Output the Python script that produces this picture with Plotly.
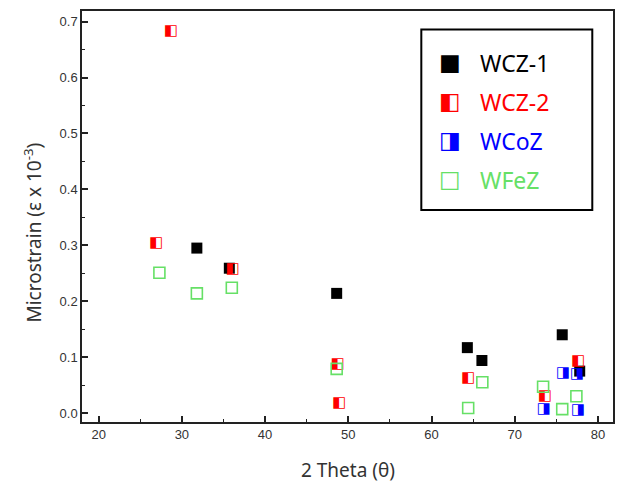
import plotly.graph_objects as go

# ---- data (2 theta in degrees, microstrain x 1e-3) ----
wcz1_x = [31.8, 35.7, 48.6, 64.3, 66.05, 75.7, 77.8]
wcz1_y = [0.295, 0.259, 0.214, 0.117, 0.094, 0.140, 0.075]

wcz2_x = [28.66, 26.9, 36.1, 48.7, 48.9, 64.4, 73.6, 77.6]
wcz2_y = [0.682, 0.303, 0.258, 0.088, 0.018, 0.063, 0.030, 0.093]

wcoz_x = [73.5, 75.8, 77.5, 77.6]
wcoz_y = [0.007, 0.072, 0.069, 0.005]

wfez_x = [27.3, 31.8, 36.0, 48.6, 64.4, 66.1, 73.4, 75.7, 77.4]
wfez_y = [0.251, 0.214, 0.224, 0.079, 0.009, 0.055, 0.047, 0.007, 0.030]

series_names = ["WCZ-1", "WCZ-2", "WCoZ", "WFeZ"]
series_colors = ["#000000", "#ff0000", "#0000ff", "#66e066"]
series_glyphs = ["\u25A0", "\u25E7", "\u25E8", "\u25A1"]

x_ticks = [20, 30, 40, 50, 60, 70, 80]
y_ticks = [0.0, 0.1, 0.2, 0.3, 0.4, 0.5, 0.6, 0.7]

fig = go.Figure()

fig.add_trace(go.Scatter(
    x=wcz1_x, y=wcz1_y, mode="markers", name=series_names[0], showlegend=False,
    marker=dict(symbol="square", size=11, color=series_colors[0],
                line=dict(width=0))))

fig.add_trace(go.Scatter(
    x=wcz2_x, y=wcz2_y, mode="text", name=series_names[1], showlegend=False,
    text=[series_glyphs[1]] * len(wcz2_x), textposition="middle center",
    textfont=dict(family="DejaVu Sans", size=15, color=series_colors[1])))

fig.add_trace(go.Scatter(
    x=wcoz_x, y=wcoz_y, mode="text", name=series_names[2], showlegend=False,
    text=[series_glyphs[2]] * len(wcoz_x), textposition="middle center",
    textfont=dict(family="DejaVu Sans", size=15, color=series_colors[2])))

fig.add_trace(go.Scatter(
    x=wfez_x, y=wfez_y, mode="markers", name=series_names[3], showlegend=False,
    marker=dict(symbol="square-open", size=11, color=series_colors[3],
                line=dict(width=1.6, color=series_colors[3]))))

# ---- manual legend ----
legend_top = 0.873
legend_step = 0.095
for i, (nm, col, gl) in enumerate(zip(series_names, series_colors, series_glyphs)):
    yy = legend_top - i * legend_step
    fig.add_annotation(xref="paper", yref="paper", x=0.693, y=yy + 0.004, text=gl,
                       showarrow=False, xanchor="center", yanchor="middle",
                       font=dict(family="DejaVu Sans", size=23, color=col))
    fig.add_annotation(xref="paper", yref="paper", x=0.746, y=yy, text=nm,
                       showarrow=False, xanchor="left", yanchor="middle",
                       font=dict(family="Noto Sans", size=23, color=col))

fig.add_shape(type="rect", xref="paper", yref="paper",
              x0=0.639, x1=0.961, y0=0.516, y1=0.955,
              line=dict(color="black", width=2), fillcolor="white", layer="below")

# axis titles
fig.add_annotation(xref="paper", yref="paper", x=0.5, y=-0.117, text="2 Theta (\u03b8)",
                   showarrow=False, xanchor="center", yanchor="middle",
                   font=dict(family="Noto Sans", size=19, color="#333333"))
fig.add_annotation(xref="paper", yref="paper", x=-0.093, y=0.46,
                   text="Microstrain (\u03b5 x 10<sup>-3</sup>)", textangle=-90,
                   showarrow=False, xanchor="center", yanchor="middle",
                   font=dict(family="Noto Sans", size=19, color="#333333"))

axis_common = dict(showgrid=False, zeroline=False, showline=True, linecolor="#222222",
                   linewidth=1.5, mirror=True, ticks="inside", ticklen=6, tickwidth=1.5,
                   tickcolor="#222222",
                   tickfont=dict(family="Liberation Sans", size=13, color="#333333"))

fig.update_xaxes(range=[18.0, 81.8], tickvals=x_ticks,
                 ticktext=[str(v) for v in x_ticks],
                 minor=dict(dtick=5, ticks="inside", ticklen=3, tickwidth=1.2,
                            tickcolor="#222222"),
                 **axis_common)
fig.update_yaxes(range=[-0.016, 0.719], tickvals=y_ticks,
                 ticktext=["%.1f" % v for v in y_ticks],
                 minor=dict(dtick=0.05, ticks="inside", ticklen=3, tickwidth=1.2,
                            tickcolor="#222222"),
                 **axis_common)

fig.update_layout(width=618, height=483, plot_bgcolor="white", paper_bgcolor="white",
                  margin=dict(l=82, r=3, t=11, b=61), showlegend=False)

fig.write_html("out.html", config={"displayModeBar": False},
               post_script="document.body.style.margin='0px';document.body.style.overflow='hidden';")
